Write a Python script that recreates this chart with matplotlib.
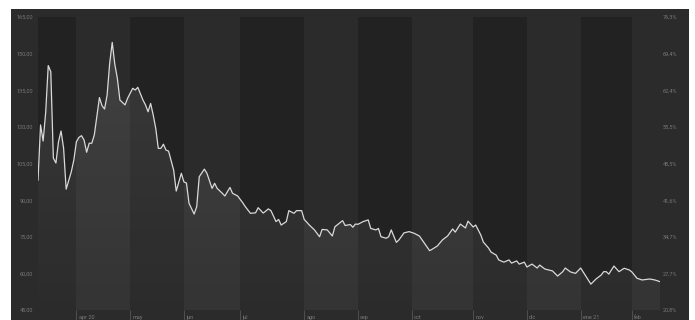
import numpy as np
import matplotlib
matplotlib.use("Agg")
import matplotlib.pyplot as plt
from matplotlib.patches import Rectangle

# trading-day index (0 = first day shown) and closing price
day = [0, 1, 2, 3, 4, 5, 6, 7, 8, 9,
       10, 11, 13, 14, 15, 16, 17, 18, 19, 20,
       21, 22, 24, 25, 26, 27, 28, 29, 30, 31,
       32, 34, 35, 37, 38, 39, 41, 42, 43, 44,
       45, 46, 47, 48, 49, 50, 51, 53, 54, 56,
       57, 58, 59, 61, 62, 63, 65, 66, 68, 69,
       70, 72, 73, 75, 76, 78, 80, 81, 83, 85,
       86, 88, 90, 91, 93, 94, 95, 97, 98, 100,
       101, 103, 104, 106, 108, 110, 111, 113, 115, 116,
       119, 120, 122, 123, 124, 125, 127, 129, 130, 132,
       133, 134, 136, 137, 138, 140, 141, 143, 145, 147,
       149, 151, 153, 154, 156, 158, 160, 162, 163, 165,
       167, 168, 170, 171, 173, 174, 176, 177, 179, 180,
       182, 184, 185, 187, 188, 190, 191, 193, 195, 196,
       198, 201, 203, 205, 206, 208, 210, 212, 214, 216,
       218, 220, 221, 222, 223, 225, 227, 229, 231, 232,
       234, 236, 239, 241, 243]
price = [98.2, 120.8, 114.2, 125.9, 145.1, 142.6, 107.2, 105.2, 113.9, 118.3,
         111.3, 94.5, 101.6, 106.4, 113.9, 115.7, 116.4, 114.6, 109.6, 113.3,
         113.3, 116.7, 132.0, 128.7, 127.3, 133.0, 146.0, 154.6, 145.7, 139.9,
         131.0, 129.0, 131.7, 135.8, 135.1, 136.2, 131.0, 129.0, 126.2, 129.6,
         124.9, 119.4, 111.2, 111.2, 112.9, 110.5, 110.1, 102.3, 93.7, 101.0,
         97.5, 97.0, 88.7, 84.3, 87.3, 99.6, 102.7, 101.0, 94.8, 96.9,
         94.8, 92.8, 91.7, 95.2, 92.8, 91.7, 88.9, 87.3, 84.6, 84.8,
         86.9, 84.7, 86.4, 85.7, 81.2, 82.1, 79.8, 81.2, 85.7, 84.6,
         85.7, 85.7, 82.1, 79.8, 77.8, 75.0, 78.0, 77.8, 75.3, 79.1,
         81.6, 79.6, 80.0, 78.9, 80.2, 80.1, 81.2, 81.9, 78.4, 77.8,
         78.4, 75.0, 74.4, 75.0, 77.8, 72.7, 73.7, 76.6, 77.1, 76.4,
         75.3, 72.3, 69.3, 69.9, 71.2, 73.7, 75.3, 78.2, 76.9, 80.2,
         78.6, 81.4, 79.0, 79.8, 75.7, 72.8, 70.4, 68.7, 67.5, 65.5,
         64.6, 65.5, 64.2, 65.1, 63.8, 64.6, 62.6, 63.8, 62.2, 63.4,
         61.8, 61.0, 58.9, 60.7, 62.2, 60.6, 60.0, 62.2, 58.9, 55.6,
         57.7, 59.3, 60.7, 60.7, 59.7, 63.0, 60.7, 62.1, 61.4, 60.6,
         58.0, 57.3, 57.7, 57.3, 56.6]

# first trading day of each month
month_start = [15, 36, 57, 79, 104, 125, 146, 170, 191, 212, 232]
month_labels = ["apr 20", "may", "jun", "jul", "ago", "sep", "oct",
                "nov", "dic", "ene 21", "feb"]
last_day = 243

left_ticks = [45, 60, 75, 90, 105, 120, 135, 150, 165]
left_labels = ["45,00", "60,00", "75,00", "90,00", "105,00", "120,00",
               "135,00", "150,00", "165,00"]
right_labels = ["20,8%", "27,7%", "34,7%", "41,6%", "48,5%", "55,5%",
                "62,4%", "69,4%", "76,3%"]

plt.rcParams["font.family"] = ["Roboto", "DejaVu Sans"]

fig = plt.figure(figsize=(6.95, 3.2), dpi=100, facecolor="white")
fig.add_artist(Rectangle((11 / 695, 0), 678 / 695, 311 / 320,
                         transform=fig.transFigure, facecolor="#2b2b2b",
                         edgecolor="none", zorder=0))

ax = fig.add_axes([38 / 695, 10 / 320, 622 / 695, 293 / 320])
ax.set_facecolor("#2b2b2b")
for s in ax.spines.values():
    s.set_visible(False)

# alternating month bands
edges = [0] + month_start + [last_day]
for i in range(0, len(edges) - 1, 2):
    ax.axvspan(edges[i], edges[i + 1], color="#222222", lw=0, zorder=0)

# area under the line with a soft vertical gradient
poly = ax.fill_between(day, price, 45, facecolor="none", edgecolor="none")
rgba = np.ones((256, 1, 4))
rgba[:, 0, 3] = np.linspace(0.045, 0.11, 256)
im = ax.imshow(rgba, extent=[0, last_day, 45, 165], origin="lower",
               aspect="auto", zorder=1, interpolation="bilinear")
im.set_clip_path(poly.get_paths()[0], ax.transData)

ax.plot(day, price, color="#d9d9d9", lw=0.9, zorder=3)

ax.set_xlim(0, last_day)
ax.set_ylim(45, 165)

ax.set_xticks(month_start)
ax.set_xticklabels([])
ax.tick_params(axis="x", length=7.5, width=0.6, color="#555555", direction="out")
for pos, lab in zip(month_start, month_labels):
    ax.annotate(lab, xy=(pos, 0), xycoords=("data", "axes fraction"),
                xytext=(1.6, -5.2), textcoords="offset points",
                ha="left", va="center", fontsize=4, color="#7a7a7a")

ax.set_yticks(left_ticks)
ax.set_yticklabels(left_labels)
ax.tick_params(axis="y", length=0, pad=3.6, labelsize=4, labelcolor="#777777")

ax2 = ax.twinx()
ax2.set_ylim(45, 165)
ax2.set_yticks(left_ticks)
ax2.set_yticklabels(right_labels)
ax2.tick_params(axis="y", length=0, pad=2.2, labelsize=4, labelcolor="#777777")
for s in ax2.spines.values():
    s.set_visible(False)

fig.savefig("out.png", dpi=100, facecolor="white")
